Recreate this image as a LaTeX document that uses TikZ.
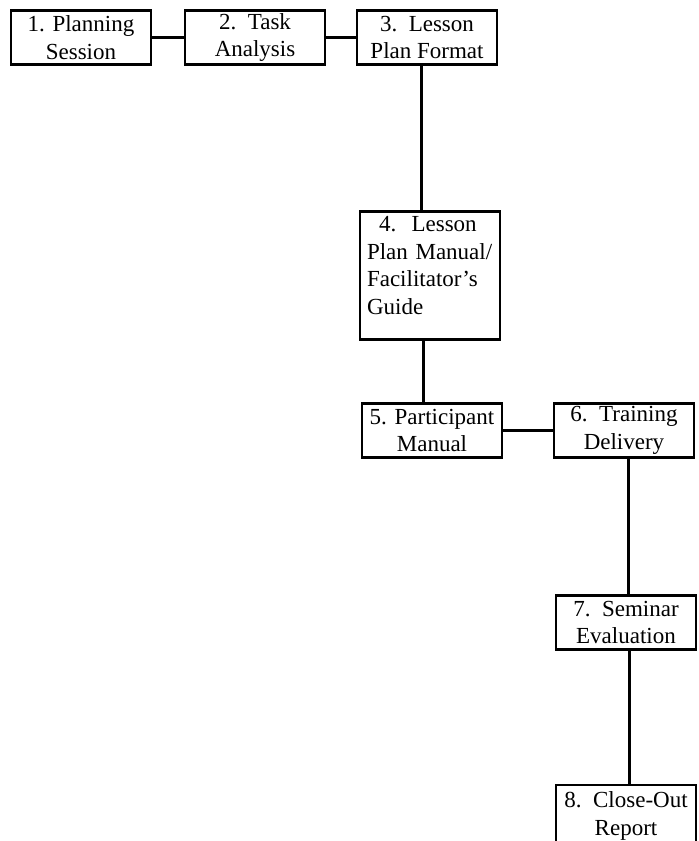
\documentclass[tikz,border=0pt]{standalone}
\usepackage{fontspec}
\setmainfont{Liberation Serif}
\usetikzlibrary{positioning}

\begin{document}
\begin{tikzpicture}[x=0.5pt,y=-0.5pt,node distance=87pt,
    stage/.style={draw,line width=1.4pt,minimum width=70pt,minimum height=27pt,
      inner xsep=3.5pt,inner ysep=0pt,align=center,
      font=\fontsize{11.5}{13.8}\selectfont},
    link/.style={line width=1.5pt}]
      \useasboundingbox (0,0) rectangle (699,841);
      \node [stage] (1) at (81,37.5) {1. Planning\\Session};
      \node [stage,right of=1] (2) {2.\ \ Task\\Analysis};
      \node [stage,right of=2,xshift=-1pt] (3) {3.\ \ Lesson\\Plan Format};
      \node [stage,below of=3,xshift=1.5pt,yshift=-32pt,minimum height=64pt,
        text width=63pt,align=left] (4)
        {\hspace*{6pt}4.\ \ Lesson\\Plan Manual/\\Facilitator's\\Guide\rule[-10pt]{0pt}{0pt}};
      \node [stage,below of=4,xshift=1pt,yshift=9.5pt] (5) {5. Participant\\Manual};
      \node [stage,right of=5,xshift=9pt] (6) {6.\ \ Training\\Delivery};
      \node [stage,below of=6,xshift=1pt,yshift=-9pt] (7) {7.\ \ Seminar\\Evaluation};
      \node [stage,below of=7,yshift=-9.75pt,minimum height=31pt] (8) {8.\ \ Close-Out\\Report};

      \draw[link] (1) -- (2);
      \draw[link] (2) -- (3);
      \draw[link,transform canvas={xshift=-3pt}] (3) -- (3 |- 4.north);
      \draw[link,transform canvas={xshift=-3.5pt}] (4) -- (4 |- 5.north);
      \draw[link] (5) -- (6);
      \draw[link,transform canvas={xshift=2pt}] (6) -- (6 |- 7.north);
      \draw[link,transform canvas={xshift=1.5pt}] (7) -- (7 |- 8.north);
    \end{tikzpicture}
\end{document}
